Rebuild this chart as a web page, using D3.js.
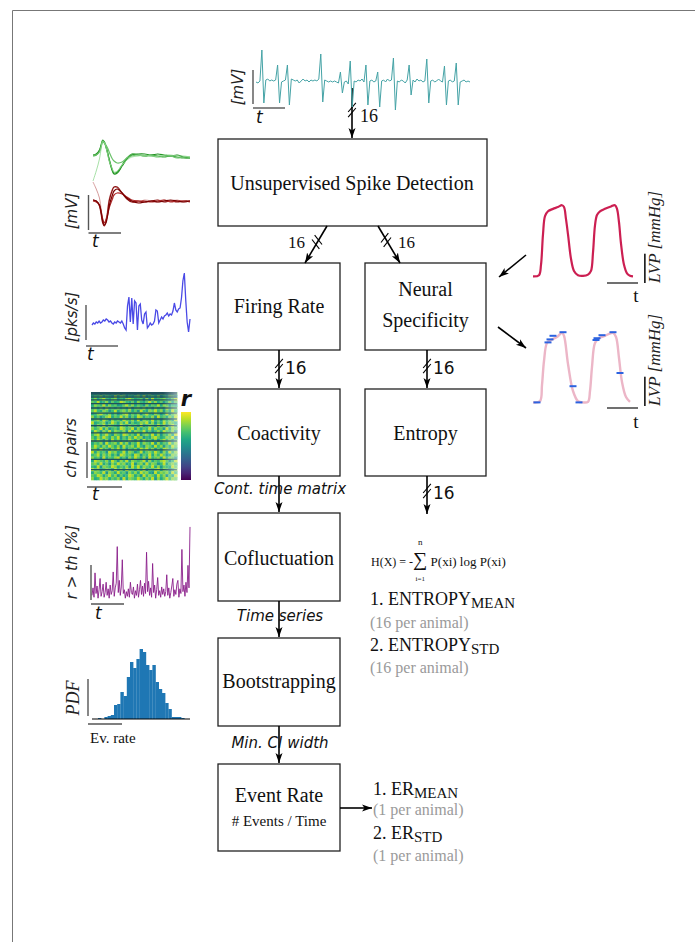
<!DOCTYPE html>
<html>
<head>
<meta charset="utf-8">
<script src="https://cdn.jsdelivr.net/npm/d3@7"></script>
<style>
body{margin:0;background:#fff}
svg text{font-family:"Liberation Serif",serif}
svg text.sans{font-family:"DejaVu Sans",sans-serif}
</style>
</head>
<body>
<svg id="fig" width="695" height="942"></svg>
<script>
// raw extracellular trace (one channel), samples
const traceMV = [0,-1,1,32,-21,2,3,1,2,1,2,17,-21,0,1,2,17,-23,3,2,1,2,-1,1,3,1,2,0,2,1,2,1,3,28,-20,2,1,0,1,0,1,0,-1,10,-11,0,1,-2,21,-25,1,0,2,1,3,0,17,-23,1,2,0,1,10,-25,1,2,0,3,1,2,24,-28,1,0,2,1,-1,2,17,-13,2,0,3,1,2,0,1,23,-21,1,2,0,1,3,1,0,16,-23,1,2,0,1,19,-23,0,1,2,0,1,0];

// spike waveforms (two units, 4 snippets each)
const waveT = [0,2,4,5,6,7,8,9,10,12,13,15,18,21,24,28,32,36,40,44,48,52,56,60];
const greenWaves = [
  [2,3,7,12,17,15,10,4,-3,-14,-17,-16,-9,-2,2,3,3,2,3,2,1,2,0,-1],
  [1,2,6,11,16,15,11,5,-2,-13,-16,-15,-8,-1,3,2,1,2,1,0,1,0,-1,-1],
  [2,2,5,10,15,14,12,9,5,-2,-4,-6,-5,-1,1,2,1,1,0,1,1,-1,0,0],
  [-24,-14,-2,8,16,15,10,3,-4,-12,-15,-14,-8,-3,0,1,2,1,1,2,2,1,1,0]
];
const redWaves = [
  [19,12,3,-8,-18,-22,-18,-9,2,12,14,13,7,2,0,-1,1,0,-1,1,0,1,-1,0],
  [1,0,-5,-13,-22,-25,-21,-12,0,11,14,14,8,2,-1,0,-1,0,1,-1,0,-1,0,0],
  [0,-1,-4,-10,-18,-22,-19,-14,-7,2,6,8,7,4,1,0,0,-1,0,1,-1,0,0,-1],
  [1,0,-4,-11,-20,-24,-22,-15,-5,6,10,12,8,3,0,-2,-1,0,-1,0,1,0,-1,0]
];

// firing rate [pks/s]
const rateValues = [11,13,12,14,13,15,13,14,16,15,17,16,14,15,13,12,14,13,15,14,13,15,12,8,6,30,39,14,38,12,35,33,6,30,32,16,12,22,24,8,10,13,11,12,15,26,25,13,16,19,17,20,21,23,20,22,21,25,33,26,24,27,28,38,55,63,36,14,4,17];

// coactivity matrix (channel pairs x time), values 0-9 -> r
const heatRows = [
  "65748 65769 48567 38567 94568 73657",
  "57685 76495 87365 78594 67583 65874",
  "68579 65784 65897 56738 49567 86579",
  "76956 84756 98657 48657 96857 46857",
  "58769 58674 57968 57648 57695 87465",
  "67584 96758 67594 78695 74867 59687",
  "79658 74695 78685 74965 87968 47596",
  "56897 68574 68957 68479 65874 69578",
  "85746 89576 96847 59857 68496 75869",
  "67859 74867 59768 59487 69574 86759",
  "95678 46975 86947 56879 58475 96875",
  "74869 58764 97586 75946 87596 84796",
  "86795 84675 98679 48576 95867 49587",
  "59748 69587 68495 87695 74685 97684",
  "68957 96487 59867 59478 69584 76859",
  "75869 75869 47586 97846 58975 68794",
  "86975 84968 57697 58496 75847 96857",
  "57684 96785 96847 69587 69485 76968",
  "69758 69758 49678 59648 75968 47597",
  "78596 74869 58476 85979 68475 98675",
  "95867 49785 69587 46957 86974 85968",
  "67958 68574 98675 98476 95869 74587",
  "86749 57689 57486 97584 96785 96874",
  "59876 85974 86958 76794 85768 97469",
  "78695 74869 78569 47859 68746 95786",
  "65948 76985 76849 69587 69584 76597",
  "97856 87496 85977 58694 76895 87468",
  "58769 48759 67486 85978 54968 78596",
  "76985 79684 75698 57496 87596 84759",
  "85697 85768 49587 69758 69485 79687"
];
const pairGroupSizes = [1,2,3,4,5,6,7,8,9,10,11,12,13,14,15];

// cofluctuation time series, r > th [%]
const coflucValues = [6,14,4,30,8,16,3,12,24,5,10,18,4,9,20,6,13,3,17,7,11,31,5,14,19,58,9,22,6,15,44,8,12,3,10,5,13,4,20,9,7,15,3,11,6,18,4,12,22,7,16,5,19,8,52,10,21,6,14,4,40,9,17,3,12,25,6,11,4,15,7,13,5,10,28,6,14,3,9,16,24,5,12,7,18,22,4,13,8,55,10,17,5,20,9,38,14,79];

// bootstrapped event-rate distribution
const histCounts = [1,0,2,3,4,14,15,27,23,42,57,51,60,70,67,54,49,54,37,30,26,16,10,2,2,2,1];

// left ventricular pressure
const lvpT   = [0,6,8,10,12,15,20,25,29,31,33,35,38,41,45,50,55,58,60,62,64,67,72,78,82,84,86,88,91,94,97,100];
const lvpRed = [1,3,20,70,100,108,112,115,118,115,95,70,30,10,3,2,4,10,40,85,102,108,112,116,118,112,90,55,20,6,2,1];
const pinkT  = [0,7,9,11,14,18,24,29,31,35,40,45,50,55,57,59,62,66,72,80,83,86,89,93,97];
const lvpPink= [1,3,30,70,100,105,110,117,112,65,20,3,1,2,20,60,100,108,112,117,110,75,35,10,2];
const markerT = [4,15,17,20,30,40,46,63,64,69,80,87];
const markerV = [1,101,106,112,118,28,1,105,108,113,118,50];

const svg = d3.select('#fig');
svg.append('rect').attr('width',695).attr('height',942).attr('fill','#fff');
const defs = svg.append('defs');
defs.append('marker').attr('id','ah').attr('viewBox','0 0 10 10')
  .attr('refX',10).attr('refY',5).attr('markerWidth',10).attr('markerHeight',10)
  .attr('markerUnits','userSpaceOnUse').attr('orient','auto')
  .append('path').attr('d','M0,1.5 L10,5 L0,8.5 L2.5,5 Z').attr('fill','#000');

// frame
svg.append('path').attr('d','M695,10.5 H12.5 V942').attr('fill','none').attr('stroke','#777').attr('stroke-width',1);

// ---------- helpers ----------
function box(x,y,w,h){
  svg.append('rect').attr('x',x).attr('y',y).attr('width',w).attr('height',h)
    .attr('fill','none').attr('stroke','#222').attr('stroke-width',1.3);
}
function label(x,y,txt,size,opts={}){
  const t = svg.append('text').attr('x',x).attr('y',y).attr('font-size',size)
    .attr('text-anchor',opts.anchor||'middle').attr('fill',opts.fill||'#111').text(txt);
  if(opts.sans) t.classed('sans',true);
  if(opts.italic) t.attr('font-style','italic');
  return t;
}
function vlabel(x,y,txt,size,opts={}){
  const t = svg.append('text').attr('transform',`translate(${x},${y}) rotate(-90)`)
    .attr('font-size',size).attr('text-anchor',opts.anchor||'middle').attr('fill','#222').text(txt);
  if(opts.sans) t.classed('sans',true);
  t.attr('font-style','italic');
  return t;
}
function arrow(x1,y1,x2,y2){
  svg.append('line').attr('x1',x1).attr('y1',y1).attr('x2',x2).attr('y2',y2)
    .attr('stroke','#000').attr('stroke-width',1.6).attr('marker-end','url(#ah)');
}
function breakMark(x,y,ang,slash){
  const a = ang*Math.PI/180, s = slash*Math.PI/180;
  [-2.6,2.6].forEach(o=>{
    const cx = x+Math.cos(a)*o, cy = y+Math.sin(a)*o;
    svg.append('line').attr('x1',cx-Math.cos(s)*6).attr('y1',cy-Math.sin(s)*6)
      .attr('x2',cx+Math.cos(s)*6).attr('y2',cy+Math.sin(s)*6)
      .attr('stroke','#000').attr('stroke-width',1.1);
  });
}
function scaleBar(x,y1,y2,x2,yh){
  svg.append('line').attr('x1',x).attr('x2',x).attr('y1',y1).attr('y2',y2).attr('stroke','#555').attr('stroke-width',1.4);
  svg.append('line').attr('x1',x).attr('x2',x2).attr('y1',yh).attr('y2',yh).attr('stroke','#555').attr('stroke-width',1.4);
}

// ---------- boxes ----------
box(218,139,269,87);
label(352,190,'Unsupervised Spike Detection',20);
box(218,263,122,87);  label(279,313,'Firing Rate',20);
box(365,263,121,87);  label(425.5,296,'Neural',20); label(425.5,327,'Specificity',20);
box(218,389,122,87);  label(279,440,'Coactivity',20);
box(365,389,121,87);  label(425.5,440,'Entropy',20);
box(218,513,122,88);  label(279,565,'Cofluctuation',20);
box(218,638,122,88);  label(279,688,'Bootstrapping',20);
box(218,764,122,87);  label(279,802,'Event Rate',20); label(279,826,'# Events / Time',15);

// ---------- arrows ----------
arrow(352,88,352,138);   breakMark(352,110,90,130); label(360,122,'16',18,{anchor:'start'});
arrow(327,226,305,263);  breakMark(317,242,121,52);  label(305,248,'16',17,{anchor:'end'});
arrow(378,226,400,263);  breakMark(386,240,59,128); label(398,248,'16',17,{anchor:'start'});
arrow(279,350,279,388);  breakMark(279,366,90,130); label(285,374,'16',17,{anchor:'start',sans:true});
arrow(427,350,427,388);  breakMark(427,366,90,130); label(433,374,'16',17,{anchor:'start',sans:true});
arrow(279,476,279,512);
arrow(427,476,427,514);  breakMark(427,491,90,130); label(433,499,'16',17,{anchor:'start',sans:true});
arrow(279,601,279,637);
arrow(279,726,279,763);
arrow(340,808,372,808);
arrow(526,255,499,277);
arrow(498,327,526,348);

label(280,494,'Cont. time matrix',15,{sans:true,italic:true});
label(280,621,'Time series',15,{sans:true,italic:true});
label(280,748,'Min. CI width',15,{sans:true,italic:true});

// ---------- top raw trace ----------
const xTr = d3.scaleLinear().domain([0,traceMV.length-1]).range([256,470]);
const yTr = d3.scaleLinear().domain([-28,34]).range([110,48]);
svg.append('path').datum(traceMV).attr('fill','none').attr('stroke','#45a3a6').attr('stroke-width',1)
  .attr('d',d3.line().x((d,i)=>xTr(i)).y(d=>yTr(d)));
scaleBar(253,70,104,285,108);
vlabel(243,87,'[mV]',15,{sans:true});
label(256,123,'t',17,{anchor:'start',sans:true,italic:true});

// ---------- spike waveforms ----------
const xW = d3.scaleLinear().domain([0,60]).range([93,190]);
const yG = d3.scaleLinear().domain([-30,30]).range([187,127]);
const yR = d3.scaleLinear().domain([-30,30]).range([231,171]);
const gCol = ['#1f8f1f','#3aa63a','#6cc26c','#8fd88f'];
const rCol = ['#c98080','#8b0f0f','#b02a2a','#7a0000'];
svg.append('g').selectAll('path').data(greenWaves).join('path')
  .attr('fill','none').attr('stroke',(d,i)=>gCol[i]).attr('stroke-width',(d,i)=>i==3?0.8:1.2)
  .attr('d',d3.line().curve(d3.curveCatmullRom).x((d,i)=>xW(waveT[i])).y(d=>yG(d)));
svg.append('g').selectAll('path').data(redWaves).join('path')
  .attr('fill','none').attr('stroke',(d,i)=>rCol[i]).attr('stroke-width',(d,i)=>i==0?0.8:1.2)
  .attr('d',d3.line().curve(d3.curveCatmullRom).x((d,i)=>xW(waveT[i])).y(d=>yR(d)));
scaleBar(88.5,195,230,121,233);
vlabel(77,211,'[mV]',15,{sans:true});
label(92,247,'t',17,{anchor:'start',sans:true,italic:true});

// ---------- firing rate ----------
const xRt = d3.scaleLinear().domain([0,rateValues.length-1]).range([92,190]);
const yRt = d3.scaleLinear().domain([0,64]).range([336,272]);
svg.append('path').datum(rateValues).attr('fill','none').attr('stroke','#4a4ae6').attr('stroke-width',1.3)
  .attr('d',d3.line().x((d,i)=>xRt(i)).y(d=>yRt(d)));
scaleBar(86,305,340,118,346);
vlabel(77,317,'[pks/s]',15,{sans:true});
label(87,360,'t',17,{anchor:'start',sans:true,italic:true});

// ---------- coactivity heatmap ----------
const rows = heatRows.map(r=>r.replace(/ /g,'').split('').map(Number));
const nCol = rows[0].length;
const xH = d3.scaleLinear().domain([0,nCol]).range([91,177]);
const yH = d3.scaleLinear().domain([0,rows.length]).range([392,480]);
const cH = d3.scaleLinear().domain([0,9]).range([0.25,0.9]);
const hg = svg.append('g');
rows.forEach((r,ri)=>{
  hg.selectAll(null).data(r).join('rect')
    .attr('x',(d,ci)=>xH(ci)).attr('y',yH(ri))
    .attr('width',xH(1)-xH(0)+0.3).attr('height',yH(1)-yH(0)+0.3)
    .attr('fill',d=>d3.interpolateViridis(cH(d)));
});
const totPairs = d3.sum(pairGroupSizes);
const yP = d3.scaleLinear().domain([0,totPairs]).range([392,480]);
const edges = [0].concat(Array.from(d3.cumsum(pairGroupSizes)).slice(0,-1));
const fadeG = defs.append('linearGradient').attr('id','fadeR').attr('x1',0).attr('x2',1).attr('y1',0).attr('y2',0);
fadeG.append('stop').attr('offset','0%').attr('stop-color','#fff').attr('stop-opacity',0);
fadeG.append('stop').attr('offset','100%').attr('stop-color','#fff').attr('stop-opacity',0.45);
hg.selectAll('line.edge').data(edges).join('line').attr('class','edge')
  .attr('x1',91).attr('x2',177).attr('y1',d=>yP(d)+0.6).attr('y2',d=>yP(d)+0.6)
  .attr('stroke','#1f4f5c').attr('stroke-width',1.3);
hg.append('rect').attr('x',163).attr('y',392).attr('width',14).attr('height',88).attr('fill','url(#fadeR)');
const cb = defs.append('linearGradient').attr('id','vir').attr('x1',0).attr('x2',0).attr('y1',1).attr('y2',0);
d3.range(0,1.01,0.1).forEach(t=>cb.append('stop').attr('offset',(t*100)+'%').attr('stop-color',d3.interpolateViridis(t)));
svg.append('rect').attr('x',181).attr('y',412).attr('width',10).attr('height',68).attr('fill','url(#vir)');
label(186,406,'r',21,{sans:true,italic:true}).attr('font-weight','bold');
scaleBar(87,442,478,122,487);
vlabel(76,448,'ch pairs',15,{sans:true});
label(92,500,'t',17,{anchor:'start',sans:true,italic:true});

// ---------- cofluctuation ----------
const xC = d3.scaleLinear().domain([0,coflucValues.length-1]).range([92,190]);
const yC = d3.scaleLinear().domain([0,80]).range([601,526]);
svg.append('path').datum(coflucValues).attr('fill','none').attr('stroke','#8a1e8a').attr('stroke-width',0.9)
  .attr('d',d3.line().x((d,i)=>xC(i)).y(d=>yC(d)));
scaleBar(91,565,600,124,604);
vlabel(77,562,'r > th [%]',15,{sans:true});
label(95,619,'t',17,{anchor:'start',sans:true,italic:true});

// ---------- histogram ----------
const xB = d3.scaleLinear().domain([0,histCounts.length]).range([98,184.4]);
const yB = d3.scaleLinear().domain([0,70]).range([719,649]);
svg.append('g').selectAll('rect').data(histCounts).join('rect')
  .attr('x',(d,i)=>xB(i)).attr('width',xB(1)-xB(0)+0.2)
  .attr('y',d=>yB(d)).attr('height',d=>yB(0)-yB(d)).attr('fill','#1f77b4');
svg.append('line').attr('x1',92).attr('x2',190).attr('y1',719).attr('y2',719).attr('stroke','#000').attr('stroke-width',1);
scaleBar(88,679,716,122,724);
vlabel(79,698,'PDF',18,{});
label(90,743,'Ev. rate',15,{anchor:'start'});

// ---------- LVP panels ----------
const xL = d3.scaleLinear().domain([0,100]).range([533,633]);
const yL1 = d3.scaleLinear().domain([0,120]).range([277,204]);
const yL2 = d3.scaleLinear().domain([0,120]).range([403,331]);
svg.append('path').datum(lvpRed).attr('fill','none').attr('stroke','#cc1f52').attr('stroke-width',2.2)
  .attr('d',d3.line().curve(d3.curveCatmullRom).x((d,i)=>xL(lvpT[i])).y(d=>yL1(d)));
svg.append('path').datum(lvpPink).attr('fill','none').attr('stroke','#ecb6c7').attr('stroke-width',2.4)
  .attr('d',d3.line().curve(d3.curveCatmullRom).x((d,i)=>xL(pinkT[i])).y(d=>yL2(d)));
svg.append('g').selectAll('line').data(markerT).join('line')
  .attr('x1',d=>xL(d)-3.5).attr('x2',d=>xL(d)+3.5)
  .attr('y1',(d,i)=>yL2(markerV[i])).attr('y2',(d,i)=>yL2(markerV[i]))
  .attr('stroke','#2b63e0').attr('stroke-width',2);
svg.append('line').attr('x1',607).attr('x2',638).attr('y1',283).attr('y2',283).attr('stroke','#222').attr('stroke-width',1.3);
svg.append('line').attr('x1',607).attr('x2',638).attr('y1',408).attr('y2',408).attr('stroke','#222').attr('stroke-width',1.3);
label(636,302,'t',19);
label(636,428,'t',19);
[[660,283],[660,406]].forEach(([x,y])=>{
  const t = svg.append('text').attr('transform',`translate(${x},${y}) rotate(-90)`)
    .attr('font-size',17).attr('font-style','italic').attr('fill','#222');
  t.append('tspan').style('text-decoration','overline').text('LVP');
  t.append('tspan').text(' [mmHg]');
});

// ---------- entropy outputs ----------
const fx = svg.append('text').attr('x',371).attr('y',566).attr('fill','#111');
fx.append('tspan').attr('font-size',12).text('H(X) = -');
fx.append('tspan').attr('font-size',20).text('\u2211');
fx.append('tspan').attr('font-size',13).text(' P(xi) log P(xi)');
const sigX = fx.node().getStartPositionOfChar(8).x + fx.node().getExtentOfChar(8).width/2;
const lim = svg.append('text').attr('x',sigX).attr('y',545).attr('text-anchor','middle').attr('fill','#111');
lim.append('tspan').attr('font-size',9).text('n');
lim.append('tspan').attr('x',sigX).attr('y',581).attr('font-size',7).text('i=1');

function subText(x,y,main,sub,size,subSize){
  const t = svg.append('text').attr('x',x).attr('y',y).attr('font-size',size).attr('fill','#111');
  t.append('tspan').text(main);
  t.append('tspan').attr('dy',3).attr('font-size',subSize).text(sub);
}
subText(370,605,'1. ENTROPY','MEAN',18,15);
label(370,628,'(16 per animal)',16,{anchor:'start',fill:'#9a9a9a'});
subText(370,651,'2. ENTROPY','STD',18,15);
label(370,673,'(16 per animal)',16,{anchor:'start',fill:'#9a9a9a'});

// ---------- event rate outputs ----------
subText(373,795,'1. ER','MEAN',18,15);
label(373,815,'(1 per animal)',16,{anchor:'start',fill:'#9a9a9a'});
subText(373,839,'2. ER','STD',18,15);
label(373,861,'(1 per animal)',16,{anchor:'start',fill:'#9a9a9a'});
</script>
</body>
</html>
